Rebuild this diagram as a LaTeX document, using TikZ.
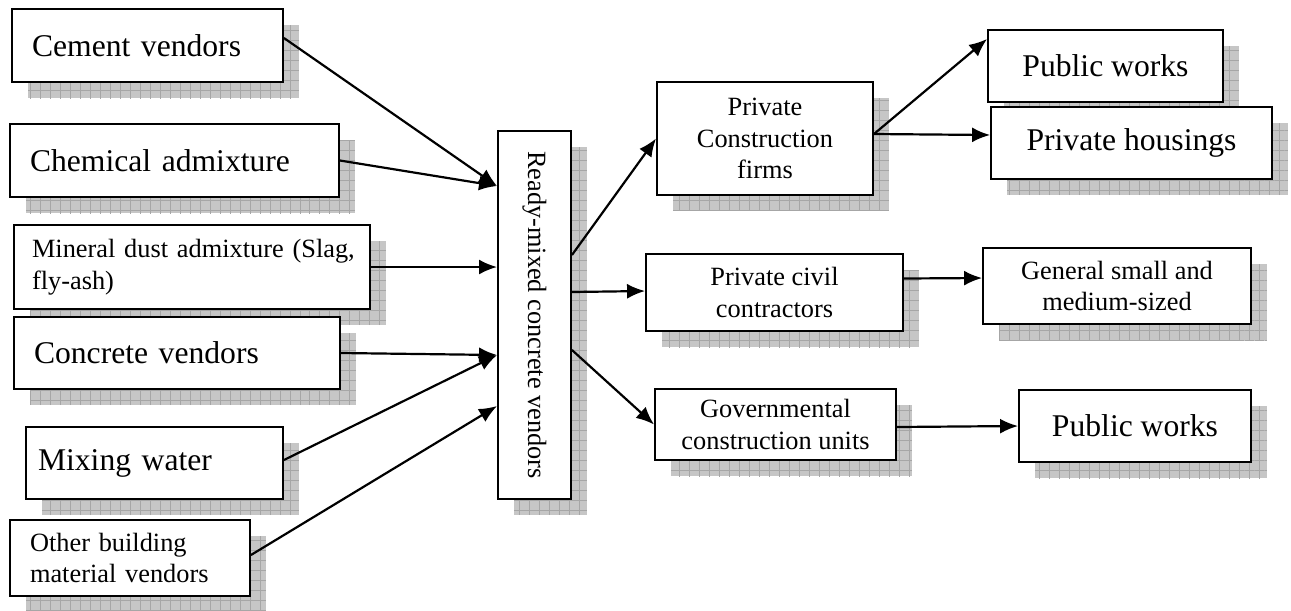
\documentclass[tikz,border=0pt]{standalone}
\usepackage{fontspec}
\setmainfont{Liberation Serif}
\usetikzlibrary{shadows,patterns.meta,arrows.meta,calc}
\newcommand\bigtxt{\fontsize{18pt}{21pt}\selectfont}
\newcommand\smalltxt{\fontsize{15pt}{18pt}\selectfont}

\begin{document}
\begin{tikzpicture}[x=0.02cm, y=-0.02cm,
    box/.style={draw, line width=1.1pt, fill=white, inner ysep=0pt,
      general shadow={fill=gray!45, shadow xshift=0.32cm, shadow yshift=-0.32cm,
        postaction={pattern={Hatch[angle=0, distance=0.2cm, line width=0.5pt]}, pattern color=gray!70}}},
    src/.style={box, align=left, inner xsep=0.4cm},
    dst/.style={box, align=center},
    feed/.style={line width=1.25pt, -{Latex[length=0.36cm, width=0.3cm]}}]
                \useasboundingbox (0,0) rectangle (1291,610);
                \node[src, font=\bigtxt, text width=4.62cm, minimum height=1.46cm] (cement) at (147.5,45.5) {Cement vendors};
                \node[src, font=\bigtxt, text width=5.78cm, minimum height=1.46cm] (chem) at (174.5,160.5) {Chemical admixture};
                \node[src, font=\smalltxt, inner xsep=0.36cm, text width=6.4cm, minimum height=1.68cm] (mineral) at (192,267) {\mbox{Mineral dust admixture (Slag,}\\fly-ash)};
                \node[src, font=\bigtxt, text width=5.72cm, minimum height=1.44cm] (concrete) at (177,353) {Concrete vendors};
                \node[src, font=\bigtxt, inner xsep=0.24cm, text width=4.66cm, minimum height=1.44cm] (water) at (154.5,463) {Mixing water};
                \node[src, font=\smalltxt, text width=4cm, minimum height=1.52cm] (other) at (130,558) {Other building\\material vendors};
                \node[box, font=\smalltxt, inner sep=0pt, minimum width=1.46cm, minimum height=7.36cm] (rm) at (534.5,315) {\rotatebox{-90}{Ready-mixed concrete vendors}};
                \node[dst, font=\smalltxt, minimum width=4.32cm, minimum height=2.26cm] (pcf) at (765,138.5) {Private\\Construction\\firms};
                \node[dst, font=\bigtxt, minimum width=4.7cm, minimum height=1.44cm] (pw1) at (1105.5,66) {Public works};
                \node[dst, font=\bigtxt, minimum width=5.62cm, minimum height=1.44cm] (ph) at (1131.5,143) {Private housings};
                \node[dst, font=\smalltxt, minimum width=5.14cm, minimum height=1.54cm] (pcc) at (774.5,292.5) {Private civil\\contractors};
                \node[dst, font=\smalltxt, minimum width=5.36cm, minimum height=1.52cm] (gsm) at (1117,286) {General small and\\medium-sized};
                \node[dst, font=\smalltxt, minimum width=4.82cm, minimum height=1.42cm] (gcu) at (775.5,424.5) {Governmental\\construction units};
                \node[dst, font=\bigtxt, minimum width=4.64cm, minimum height=1.44cm] (pw2) at (1135,426) {Public works};
                \draw[feed] ($(cement.east)+(0,-7.5)$) -- ($(rm.west)+(0,-129)$);
                \draw[feed] (chem.east) -- ($(rm.west)+(0,-129)$);
                \draw[feed] (mineral.east) -- ($(rm.west)+(0,-48)$);
                \draw[feed] (concrete.east) -- ($(rm.west)+(0,40)$);
                \draw[feed] ($(water.east)+(0,-3)$) -- ($(rm.west)+(0,40)$);
                \draw[feed] ($(other.east)+(0,-3)$) -- ($(rm.west)+(0,91)$);
                \draw[feed] ($(rm.east)+(0,-60)$) -- (pcf.west);
                \draw[feed] ($(rm.east)+(0,-23)$) -- ($(pcc.west)+(0,-1.5)$);
                \draw[feed] ($(rm.east)+(0,35)$) -- (gcu.west);
                \draw[feed] ($(pcf.east)+(0,-4.5)$) -- ($(pw1.west)+(0,-27)$);
                \draw[feed] ($(pcf.east)+(0,-4.5)$) -- ($(ph.west)+(0,-8)$);
                \draw[feed] ($(pcc.east)+(0,-14)$) -- ($(gsm.west)+(0,-8)$);
                \draw[feed] ($(gcu.east)+(0,2.5)$) -- (pw2.west);
            \end{tikzpicture}
\end{document}
